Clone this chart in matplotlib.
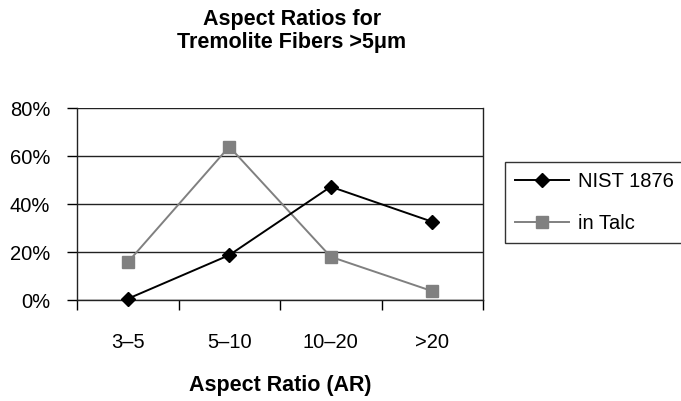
import matplotlib
matplotlib.use("Agg")
from matplotlib import pyplot as plt
from matplotlib.ticker import FixedLocator, PercentFormatter
import numpy as np

# Datos
categorias = ["3\u20135", "5\u201310", "10\u201320", ">20"]
nist_1876 = [0.5, 18.7, 47.2, 32.6]
in_talc = [15.7, 63.9, 18.0, 3.7]
y_ticks = [0, 20, 40, 60, 80]

plt.rcParams["font.family"] = ["Liberation Sans", "DejaVu Sans"]

fig = plt.figure(figsize=(6.81, 4.01), dpi=100)
ax = fig.add_axes([77 / 681, 1 - 300 / 401, (483 - 77) / 681, (300 - 108) / 401])

x = np.arange(len(categorias))
l1, = ax.plot(x, nist_1876, color="black", lw=1.4, marker="D", ms=7.5,
              clip_on=False, zorder=4, label="NIST 1876")
l2, = ax.plot(x, in_talc, color="#808080", lw=1.4, marker="s", ms=9,
              clip_on=False, zorder=3, label="in Talc")

ax.set_xlim(-0.5, len(categorias) - 0.5)
ax.set_ylim(0, 80)

# Ejes: ticks en los límites de las categorías, etiquetas en el centro
ax.xaxis.set_major_locator(FixedLocator(np.arange(len(categorias) + 1) - 0.5))
ax.xaxis.set_minor_locator(FixedLocator(x))
ax.set_xticklabels([], minor=False)
ax.set_xticklabels(categorias, minor=True)
ax.tick_params(axis="x", which="major", direction="out", length=7.2, width=1, color="black")
ax.tick_params(axis="x", which="minor", length=0, pad=24, labelsize=14.5)

ax.set_yticks(y_ticks)
ax.yaxis.set_major_formatter(PercentFormatter(decimals=0))
ax.tick_params(axis="y", direction="out", length=7.2, width=1, pad=12, labelsize=14.5)

ax.grid(axis="y", color="#222222", lw=1)
ax.set_axisbelow(True)
ax.spines["top"].set_visible(False)
for s in ["left", "right", "bottom"]:
    ax.spines[s].set_linewidth(1)
    ax.spines[s].set_color("#222222")

ax.set_xlabel("Aspect Ratio (AR)", fontsize=15.5, fontweight="bold", labelpad=16)

fig.text(292 / 681, 1 - 31 / 401, "Aspect Ratios for\nTremolite Fibers >5\u03bcm",
         ha="center", va="center", fontsize=15.5, fontweight="bold", linespacing=1.1)

leg = fig.legend(handles=[l1, l2], loc="upper left",
                 bbox_to_anchor=(505 / 681, 1 - 162 / 401),
                 frameon=True, fancybox=False, edgecolor="black",
                 fontsize=14.5, handlelength=2.7, handletextpad=0.4,
                 labelspacing=1.15, borderpad=0.5, borderaxespad=0)
leg.get_frame().set_linewidth(1)

fig.savefig("out.png", dpi=100)
